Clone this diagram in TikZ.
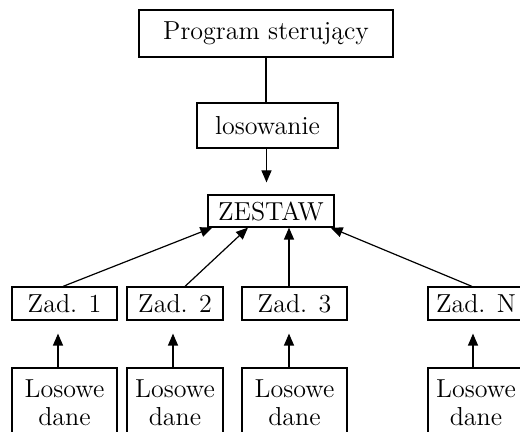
\documentclass[tikz,border=0pt]{standalone}
\usepackage{fontspec}
\usepackage{tikz}
\usetikzlibrary{arrows.meta}
\tikzset{
  every node/.style={
    font=\fontsize{13}{14}\selectfont
  },
  blok/.style={
    draw, line width=0.6pt, inner sep=0pt, align=center
  },
  strz/.style={
    line width=0.6pt, -{Triangle[length=6pt,width=5pt]}
  }
}

\begin{document}
\begin{tikzpicture}[x=0.5pt,y=-0.5pt]
        \useasboundingbox (0,0) rectangle (520,432);
        \node [blok, minimum width=127pt, minimum height=23.5pt] (Prog) at (266,33.5) {Program sterujący};
        \node [blok, minimum width=70.5pt, minimum height=22.5pt] (Los) at (267.5,125.5) {losowanie};
        \node [blok, minimum width=63pt, minimum height=16pt] (Zestaw) at (271,211) {ZESTAW};
        % zadania
        \node [blok, minimum width=52.5pt, minimum height=16.5pt] (Zad1) at (64.5,303.5) {Zad. 1};
        \node [blok, minimum width=48pt, minimum height=16.5pt] (Zad2) at (175,303.5) {Zad. 2};
        \node [blok, minimum width=52.5pt, minimum height=16.5pt] (Zad3) at (294.5,303.5) {Zad. 3};
        \node [blok, minimum width=48pt, minimum height=16.5pt] (ZadN) at (476,303.5) {Zad. N};
        % losowe dane
        \node [blok, minimum width=52.5pt, minimum height=35pt] (Dane1) at (64.5,403) {Losowe\\dane};
        \node [blok, minimum width=48pt, minimum height=35pt] (Dane2) at (175,403) {Losowe\\dane};
        \node [blok, minimum width=52.5pt, minimum height=35pt] (Dane3) at (294.5,403) {Losowe\\dane};
        \node [blok, minimum width=48pt, minimum height=35pt] (DaneN) at (476,403) {Losowe\\dane};
        \draw [line width=0.6pt] (Prog) -- (Prog |- Los.north);
        \draw [strz, shorten >=6pt] ([xshift=-0.5pt]Los.south) -- ([xshift=-0.5pt]Los.south |- Zestaw.north);
        \draw [strz] ([xshift=-0.75pt]Zad1.north) -- ([xshift=2.5pt]Zestaw.south west);
        \draw [strz] ([xshift=5pt]Zad2.north) -- ([xshift=-11.5pt]Zestaw.south);
        \draw [strz] ([xshift=-2.75pt]Zad3.north) -- ([xshift=-2.75pt]Zad3.north |- Zestaw.south);
        \draw [strz] ([xshift=-2pt]ZadN.north) -- ([xshift=-2pt]Zestaw.south east);
        \draw [strz, shorten >=6.5pt] ([xshift=-3.25pt]Dane1.north) -- ([xshift=-3.25pt]Zad1.south);
        \draw [strz, shorten >=6.5pt] ([xshift=-1pt]Dane2.north) -- ([xshift=-1pt]Zad2.south);
        \draw [strz, shorten >=6.5pt] ([xshift=-2.75pt]Dane3.north) -- ([xshift=-2.75pt]Zad3.south);
        \draw [strz, shorten >=6.5pt] ([xshift=-1.5pt]DaneN.north) -- ([xshift=-1.5pt]ZadN.south);
      \end{tikzpicture}
\end{document}
